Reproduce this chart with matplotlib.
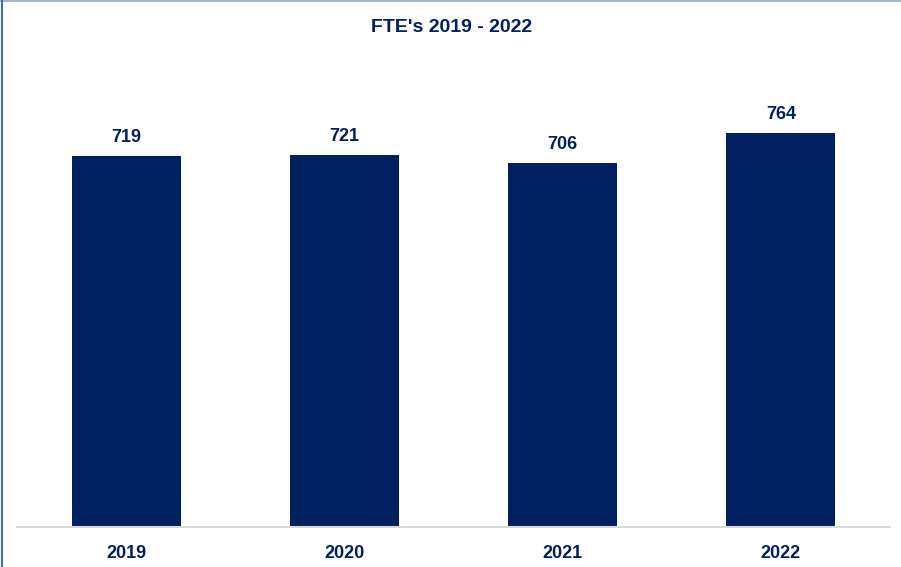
import matplotlib
matplotlib.use("Agg")
import matplotlib.pyplot as plt
from matplotlib.lines import Line2D

# data
years = ["2019", "2020", "2021", "2022"]
fte = [719, 721, 706, 764]
title = "FTE's 2019 - 2022"

navy = "#002060"
fonts = ["Liberation Sans Narrow", "Liberation Sans", "DejaVu Sans"]
plt.rcParams['font.family'] = fonts

fig = plt.figure(figsize=(9.01, 5.67), dpi=100)
ax = fig.add_axes([17 / 901, 40.5 / 567, 873 / 901, 464 / 567])

x = range(len(years))
bars = ax.bar(x, fte, width=0.5, color=navy)
ax.set_xlim(-0.5, len(years) - 0.5)
ax.set_ylim(0, 900)

# value labels above bars
for bar, v in zip(bars, fte):
    ax.annotate(f"{v}", (bar.get_x() + bar.get_width() / 2, v),
                xytext=(0, 7), textcoords="offset points",
                ha="center", va="bottom", fontsize=13, fontweight="bold", color=navy)

ax.set_xticks(list(x))
ax.set_xticklabels(years, fontsize=13, fontweight="bold", color=navy)
ax.tick_params(axis="x", length=0, pad=13)
ax.set_yticks([])

for s in ["top", "right", "left"]:
    ax.spines[s].set_visible(False)
ax.spines["bottom"].set_color("#d9d9d9")
ax.spines["bottom"].set_linewidth(1.5)

fig.text(452 / 901, 1 - 28 / 567, title, ha="center", va="center",
         fontsize=14, fontweight="bold", color=navy)

# chart frame (cropped: only top and left visible)
fig.add_artist(Line2D([0, 1], [1 - 0.5 / 567, 1 - 0.5 / 567], transform=fig.transFigure,
                      color="#a6b4cc", lw=1.5))
fig.add_artist(Line2D([2 / 901, 2 / 901], [0, 1], transform=fig.transFigure,
                      color="#4a6aa5", lw=1.5))

plt.savefig("out.png", dpi=100)
